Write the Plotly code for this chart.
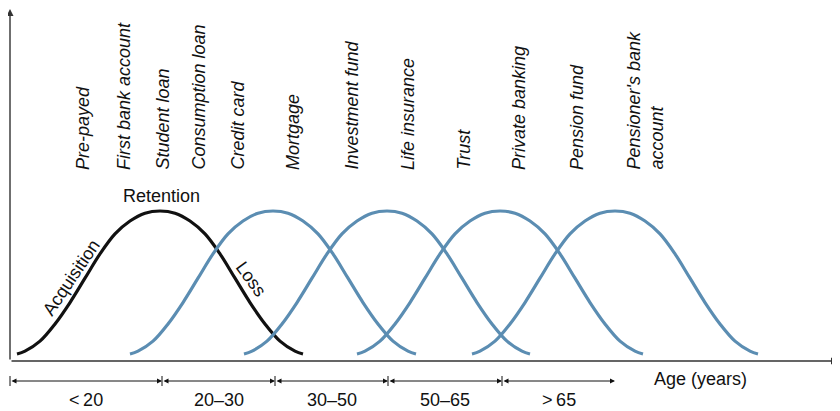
"""Customer life-cycle schematic: product bells along the age axis."""

import plotly.graph_objects as go

# bell shape: offset from peak -> share of peak height
bell_offsets = [0, 15, 30, 45, 60, 75, 90, 105, 120, 135, 143]
bell_shares = [1.0, 0.985, 0.93, 0.84, 0.70, 0.53, 0.36, 0.21, 0.09, 0.02, 0.0]
bell_base = 7
bell_height = 143

# bell centres (first one is the black "life cycle" curve)
bell_centres = [150, 263, 377, 490, 605]

# products written above the curves
products = [
    "Pre-payed", "First bank account", "Student loan", "Consumption loan",
    "Credit card", "Mortgage", "Investment fund", "Life insurance", "Trust",
    "Private banking", "Pension fund", "Pensioner's bank<br>account",
]
product_x = [73, 114, 152, 188, 227, 283, 341, 398, 453, 509, 567, 635]

# age brackets along the bottom
age_bounds = [0, 152, 265, 378, 492, 605]
age_labels = ["<\u200920", "20\u201330", "30\u201350", "50\u201365", ">\u200965"]

BLUE = "#5b8db2"
INK = "#111111"
AXIS = "#333333"
FONT = "Liberation Sans, Arial, sans-serif"


def bell(centre):
    xs = [centre - o for o in reversed(bell_offsets)] + [centre + o for o in bell_offsets[1:]]
    shares = list(reversed(bell_shares)) + bell_shares[1:]
    ys = [bell_base + bell_height * s for s in shares]
    return xs, ys


fig = go.Figure()

for i, c in enumerate(bell_centres):
    xs, ys = bell(c)
    fig.add_trace(go.Scatter(
        x=xs, y=ys, mode="lines", line=dict(color=INK if i == 0 else BLUE, width=3.2, shape="spline"),
        hoverinfo="skip",
    ))

# axes with arrows
fig.add_annotation(x=828, y=0, ax=0, ay=0, xref="x", yref="y", axref="x", ayref="y",
                   text="", showarrow=True, arrowhead=2, arrowsize=1, arrowwidth=1.4, arrowcolor=AXIS)
fig.add_annotation(x=0, y=352, ax=0, ay=0, xref="x", yref="y", axref="x", ayref="y",
                   text="", showarrow=True, arrowhead=2, arrowsize=1, arrowwidth=1.4, arrowcolor=AXIS)

# age brackets
for lo, hi, lab in zip(age_bounds[:-1], age_bounds[1:], age_labels):
    fig.add_annotation(x=hi, y=-20, ax=lo, ay=-20, xref="x", yref="y", axref="x", ayref="y",
                       text="", showarrow=True, arrowside="end+start", arrowhead=2, startarrowhead=2,
                       arrowsize=1, arrowwidth=1, arrowcolor=INK)
    fig.add_annotation(x=(lo + hi) / 2, y=-39, text=lab, showarrow=False,
                       font=dict(size=18, color=INK, family=FONT))
for b in age_bounds[:-1]:
    fig.add_shape(type="line", x0=b, x1=b, y0=-15, y1=-25, line=dict(color=INK, width=1))

fig.add_annotation(x=690, y=-18, text="Age (years)", showarrow=False,
                   font=dict(size=18, color=INK, family=FONT))

# product names, rotated
for name, x in zip(products, product_x):
    fig.add_annotation(x=x, y=189, text=f"<i>{name}</i>", showarrow=False, textangle=-90,
                       xanchor="center", yanchor="bottom", align="left",
                       font=dict(size=18, color=INK, family=FONT))

# curve labels
fig.add_annotation(x=151, y=165, text="Retention", showarrow=False,
                   font=dict(size=18, color=INK, family=FONT))
fig.add_annotation(x=61, y=83, text="Acquisition", showarrow=False, textangle=-56,
                   font=dict(size=18, color=INK, family=FONT))
fig.add_annotation(x=241, y=82, text="Loss", showarrow=False, textangle=54,
                   font=dict(size=18, color=INK, family=FONT))

# the page body adds an 8px offset, so the ranges are shifted to compensate
fig.update_layout(
    width=840, height=411, showlegend=False,
    margin=dict(l=0, r=0, t=0, b=0),
    plot_bgcolor="white", paper_bgcolor="white",
    xaxis=dict(range=[-2, 838], visible=False, fixedrange=True),
    yaxis=dict(range=[-58, 353], visible=False, fixedrange=True),
)

fig.write_html("out.html")
